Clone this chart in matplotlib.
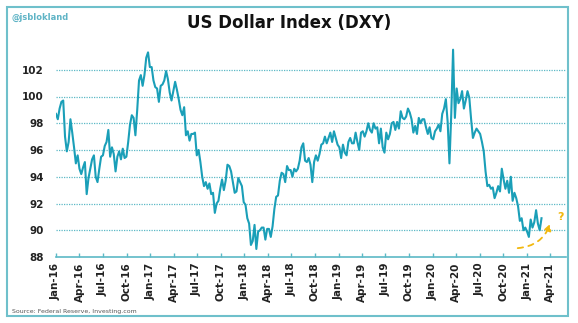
import matplotlib.pyplot as plt
import matplotlib.dates as mdates
import pandas as pd
from matplotlib.patches import Rectangle

# weekly (Friday) readings of the DXY
dxy_2016 = [98.7, 98.3, 99.1, 99.6, 99.7, 97.0, 95.9, 96.6, 98.3, 97.3, 96.2, 95.0, 95.6,
            94.6, 94.2, 94.7, 95.1, 92.7, 93.9, 94.6, 95.3, 95.6, 94.0, 93.6, 94.6, 95.5,
            95.6, 96.3, 96.6, 97.5, 95.5, 96.2, 95.7, 94.4, 95.5, 95.9, 95.3, 96.1, 95.4, 95.5,
            96.6, 97.9, 98.6, 98.4, 97.1, 99.0, 101.2, 101.6, 100.8, 101.6, 102.9, 103.3, 102.2]
dxy_2017 = [102.2, 101.2, 100.7, 100.6, 99.6, 100.8, 100.9, 101.2, 101.9, 101.3, 100.3, 99.7, 100.4,
            101.1, 100.5, 99.8, 99.0, 98.6, 99.2, 97.1, 97.4, 96.7, 97.2, 97.2, 97.3, 95.6,
            96.0, 95.1, 94.0, 93.3, 93.6, 93.1, 93.5, 92.7, 92.8, 91.3, 92.0, 92.2, 93.1,
            93.8, 93.0, 93.7, 94.9, 94.8, 94.4, 93.6, 92.8, 92.9, 93.9, 93.6, 93.3, 92.1]
dxy_2018 = [91.9, 90.9, 90.5, 88.9, 89.2, 90.4, 88.6, 89.9, 90.0, 90.2, 90.2, 89.3, 90.1,
            90.1, 89.5, 90.3, 91.6, 92.5, 92.6, 93.7, 94.3, 94.2, 93.6, 94.8, 94.5, 94.5,
            94.0, 94.6, 94.4, 94.6, 95.2, 96.2, 96.5, 95.2, 95.1, 95.4, 94.9, 93.6, 95.1,
            95.6, 95.2, 95.7, 96.4, 96.5, 97.0, 96.5, 96.9, 97.3, 96.6, 97.4, 96.9, 96.4]
dxy_2019 = [96.2, 95.4, 96.4, 95.8, 95.6, 96.6, 96.9, 96.5, 96.5, 97.3, 96.6, 96.0, 97.3,
            97.4, 97.0, 97.4, 98.0, 97.5, 97.3, 98.0, 97.6, 97.7, 96.5, 97.6, 96.2, 95.8,
            97.3, 96.8, 97.2, 98.0, 98.1, 97.5, 98.1, 97.6, 98.9, 98.4, 98.3, 98.5, 99.1,
            98.8, 98.3, 97.3, 97.8, 97.2, 98.4, 98.0, 98.3, 98.3, 97.7, 97.2, 97.7, 96.9]
dxy_2020 = [96.8, 97.4, 97.6, 97.9, 97.4, 98.7, 99.1, 99.8, 98.1, 95.0, 98.7, 103.5, 98.4,
            100.6, 99.5, 99.8, 100.4, 99.1, 99.7, 100.4, 99.9, 98.3, 96.9, 97.3, 97.6, 97.4,
            97.2, 96.6, 95.9, 94.4, 93.3, 93.4, 93.1, 93.2, 92.4, 92.8, 93.3, 92.9, 94.6,
            93.8, 93.1, 93.7, 92.8, 94.0, 92.2, 92.8, 92.4, 91.8, 90.7, 90.9, 90.0, 90.2]
dxy_2021 = [89.9, 89.5, 90.8, 90.2, 90.6, 91.5, 90.5, 90.0, 90.9]

dxy = dxy_2016 + dxy_2017 + dxy_2018 + dxy_2019 + dxy_2020 + dxy_2021
dates = pd.date_range('2016-01-01', periods=len(dxy), freq='W-FRI')

y_ticks = [88, 90, 92, 94, 96, 98, 100, 102]

teal = '#1a9fb8'
grid_teal = '#5cb9c6'

fig = plt.figure(figsize=(5.78, 3.23), dpi=100)
ax = fig.add_axes([56 / 578, 66 / 323, 510 / 578, 214 / 323])

ax.plot(dates, dxy, color=teal, lw=1.5)

ax.set_ylim(88, 104)
ax.set_yticks(y_ticks)
ax.set_xlim(pd.Timestamp('2016-01-01'), pd.Timestamp('2021-06-01'))
ax.xaxis.set_major_locator(mdates.MonthLocator(bymonth=[1, 4, 7, 10]))
ax.xaxis.set_major_formatter(mdates.DateFormatter('%b-%y'))

for v in y_ticks[1:]:
    ax.axhline(v, color=grid_teal, lw=0.9, ls=(0, (1, 1)), zorder=0)

for s in ['top', 'right', 'left']:
    ax.spines[s].set_visible(False)
ax.spines['bottom'].set_color(grid_teal)
ax.spines['bottom'].set_linewidth(1.2)

ax.tick_params(axis='y', length=0, pad=9, labelsize=7.5, labelcolor='#222222')
ax.tick_params(axis='x', direction='in', length=3, color=grid_teal, width=1,
               labelsize=7.5, labelcolor='#222222', pad=4)
for lbl in ax.get_xticklabels():
    lbl.set_rotation(90)
    lbl.set_fontweight('bold')
for lbl in ax.get_yticklabels():
    lbl.set_fontweight('bold')

# the "where next?" hint
ax.annotate('', xy=(pd.Timestamp('2021-04-05'), 90.7), xytext=(pd.Timestamp('2020-11-15'), 88.65),
            arrowprops=dict(arrowstyle='-|>', color='#f2b80f', lw=1.3, ls=(0, (3, 3)),
                            connectionstyle='arc3,rad=0.35', mutation_scale=10))
ax.text(pd.Timestamp('2021-04-28'), 90.8, '?', color='#f2b80f', fontsize=8, fontweight='bold')

fig.text(0.5, 1 - 23 / 323, 'US Dollar Index (DXY)', ha='center', va='center',
         fontsize=12, fontweight='bold', color='#111111')
fig.text(12 / 578, 1 - 17 / 323, '@jsblokland', ha='left', va='center',
         fontsize=6, fontweight='bold', color='#5fb4c6')
fig.text(12 / 578, 1 - 311 / 323, 'Source: Federal Reserve, Investing.com', ha='left', va='center',
         fontsize=4.5, color='#555555')

fig.patches.append(Rectangle((7 / 578, 7 / 323), 561 / 578, 309 / 323, transform=fig.transFigure,
                             fill=False, edgecolor='#6fc0cb', lw=1.5))

fig.savefig('out.png', dpi=100)
